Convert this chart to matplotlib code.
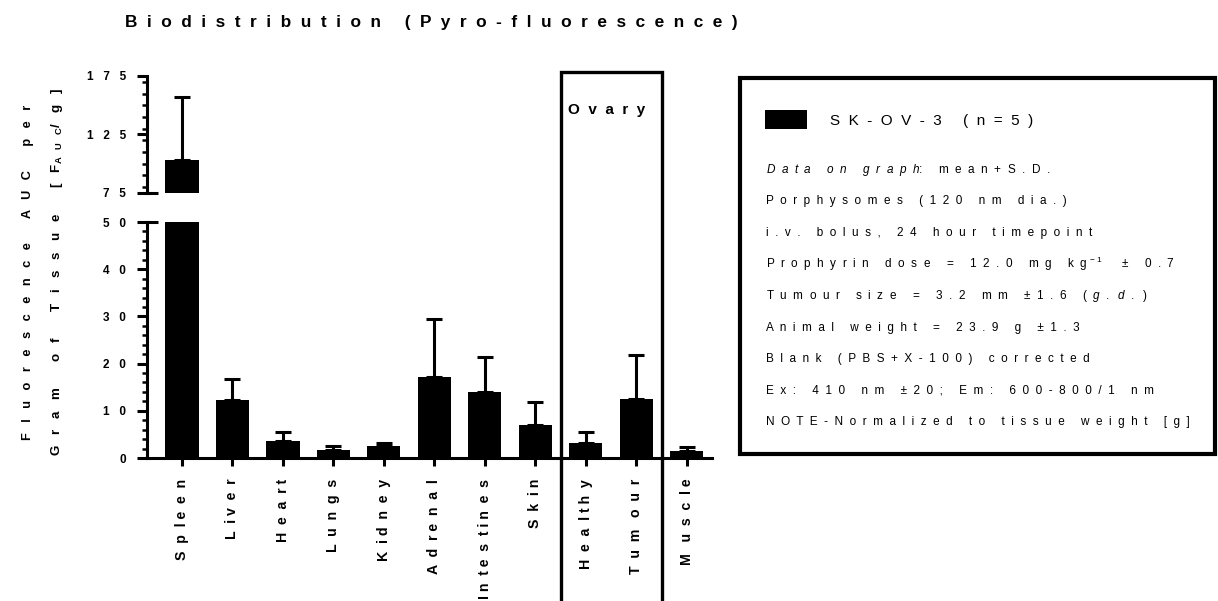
import numpy as np
import matplotlib
matplotlib.use("Agg")
import matplotlib.pyplot as plt
import matplotlib.transforms as mtransforms
from matplotlib.patches import Rectangle
from matplotlib.ticker import MultipleLocator

plt.rcParams['font.family'] = ['Liberation Sans', 'DejaVu Sans']
plt.rcParams['mathtext.fontset'] = 'custom'
plt.rcParams['mathtext.rm'] = 'Liberation Sans'
plt.rcParams['mathtext.it'] = 'Liberation Sans:italic'
plt.rcParams['mathtext.bf'] = 'Liberation Sans:bold'

# values (mean + S.D.)
organs = ['Spleen', 'Liver', 'Heart', 'Lungs', 'Kidney', 'Adrenal',
          'Intestines', 'Skin', 'Healthy', 'Tumour', 'Muscle']
means = [103.4, 12.2, 3.7, 1.6, 2.6, 17.1, 13.9, 6.9, 3.1, 12.6, 1.4]
sds = [54.0, 4.5, 1.8, 0.9, 0.6, 12.4, 7.6, 4.9, 2.5, 9.3, 0.9]
low_ticks = [0, 10, 20, 30, 40, 50]
high_ticks = [75, 125, 175]
ovary_group = ['Healthy', 'Tumour']


def spaced(s, gap="  "):
    # GraphPad-style letter spacing
    return gap.join(s)


def prop_spaced(s):
    # gap roughly as wide as the letter before it (narrow letters get less)
    narrow = "iljtfrI.,:;()[]-/ "
    wide = "mwMW"
    out = ""
    for c in s[:-1]:
        out += c + (" " if c in narrow else "   " if c in wide else "  ")
    return out + s[-1]


def it_spaced(s):
    return r"$\mathit{" + r"\ \ ".join(r"\ " if c == " " else c for c in s) + "}$"


info_lines = [
    it_spaced("Data on graph") + spaced(": mean+S.D."),
    spaced("Porphysomes (120 nm dia.)"),
    spaced("i.v. bolus, 24 hour timepoint"),
    spaced("Prophyrin dose = 12.0 mg kg") + r" $^{-\ 1}$" + spaced("  ± 0.7"),
    spaced("Tumour size = 3.2 mm ±1.6 (") + "  " + it_spaced("g.d.") + "  )",
    spaced("Animal weight = 23.9 g ±1.3"),
    spaced("Blank (PBS+X-100) corrected"),
    spaced("Ex: 410 nm ±20; Em: 600-800/1 nm"),
    spaced("NOTE-Normalized to tissue weight [g]"),
]

fig = plt.figure(figsize=(12.18, 6.01), dpi=100)
ax_hi = fig.add_axes([0.1207, 0.6789, 0.4639, 0.1947])
ax_lo = fig.add_axes([0.1207, 0.2379, 0.4639, 0.3927])

x = np.arange(len(organs))
lw = 2.2
for ax in (ax_hi, ax_lo):
    ax.bar(x, means, width=0.66, color='black', zorder=2)
    ax.errorbar(x, means, yerr=[np.zeros(len(sds)), sds], fmt='none',
                ecolor='black', elinewidth=lw, capsize=6, capthick=lw, zorder=3)
    ax.set_xlim(-0.69, 10.5)
    ax.spines[['top', 'right']].set_visible(False)
    ax.spines['left'].set_linewidth(lw)
    ax.tick_params(axis='y', which='major', length=7, width=lw, pad=8)
    ax.tick_params(axis='y', which='minor', length=3.5, width=1.8)

ax_hi.set_ylim(75, 175)
ax_hi.set_yticks(high_ticks, labels=[spaced(str(t), "   ") for t in high_ticks],
                 fontweight='bold', fontsize=8.5)
ax_hi.yaxis.set_minor_locator(MultipleLocator(10))
ax_hi.spines['bottom'].set_visible(False)
ax_hi.tick_params(axis='x', bottom=False, labelbottom=False)

ax_lo.set_ylim(0, 50)
ax_lo.set_yticks(low_ticks, labels=[spaced(str(t), "   ") for t in low_ticks],
                 fontweight='bold', fontsize=8.5)
ax_lo.yaxis.set_minor_locator(MultipleLocator(2))
ax_lo.spines['bottom'].set_linewidth(lw)
ax_lo.set_xticks(x, labels=[prop_spaced(o) for o in organs], rotation=90,
                 va='top', fontweight='bold', fontsize=10.2)
ax_lo.tick_params(axis='x', length=6, width=lw, pad=9)

# axis break marks
ax_lo.plot([0, 0.02], [1, 1], transform=ax_lo.transAxes, color='black', lw=lw,
           clip_on=False, solid_capstyle='butt')
ax_hi.plot([0, 0.02], [0, 0], transform=ax_hi.transAxes, color='black', lw=lw,
           clip_on=False, solid_capstyle='butt')

# title and y label
fig.text(0.1026, 0.962, spaced("Biodistribution (Pyro-fluorescence)"),
         fontsize=12.4, fontweight='bold', va='center')
fig.text(0.023, 0.547, spaced("Fluorescence AUC per", "   "), rotation=90,
         ha='center', va='center', fontweight='bold', fontsize=9.2)
fig.text(0.0468, 0.547, spaced("Gram of Tissue [F", "   ")
         + r"$_{\mathbf{A\ \ \ U\ \ \ C}}$" + spaced("/g]", "   "),
         rotation=90, ha='center', va='center', fontweight='bold', fontsize=9.6)

# ovary bracket around the ovary tissues
trans = mtransforms.blended_transform_factory(ax_lo.transData, fig.transFigure)
i0 = organs.index(ovary_group[0])
i1 = organs.index(ovary_group[-1])
fig.add_artist(Rectangle((i0 - 0.5, -0.1), i1 - i0 + 1, 0.98, transform=trans,
                         fill=False, ec='black', lw=2.4, clip_on=False))
fig.text((i0 + i1) / 2 - 0.08, 0.817, spaced("Ovary"), transform=trans, ha='center',
         va='center', fontweight='bold', fontsize=11)

# legend / info box
fig.add_artist(Rectangle((0.6076, 0.2446), 0.39, 0.6254, transform=fig.transFigure,
                         fill=False, ec='black', lw=3))
fig.add_artist(Rectangle((0.628, 0.7854), 0.0345, 0.0316, transform=fig.transFigure,
                         fc='black', ec='none'))
fig.text(0.6814, 1 - 125 / 601, spaced("SK-OV-3 (n=5)"), fontsize=11, va='baseline')
for i, line in enumerate(info_lines):
    fig.text(0.6289, 1 - (173 + 31.5 * i) / 601, line, fontsize=8.5, va='baseline')

fig.savefig("out.png", dpi=100)
